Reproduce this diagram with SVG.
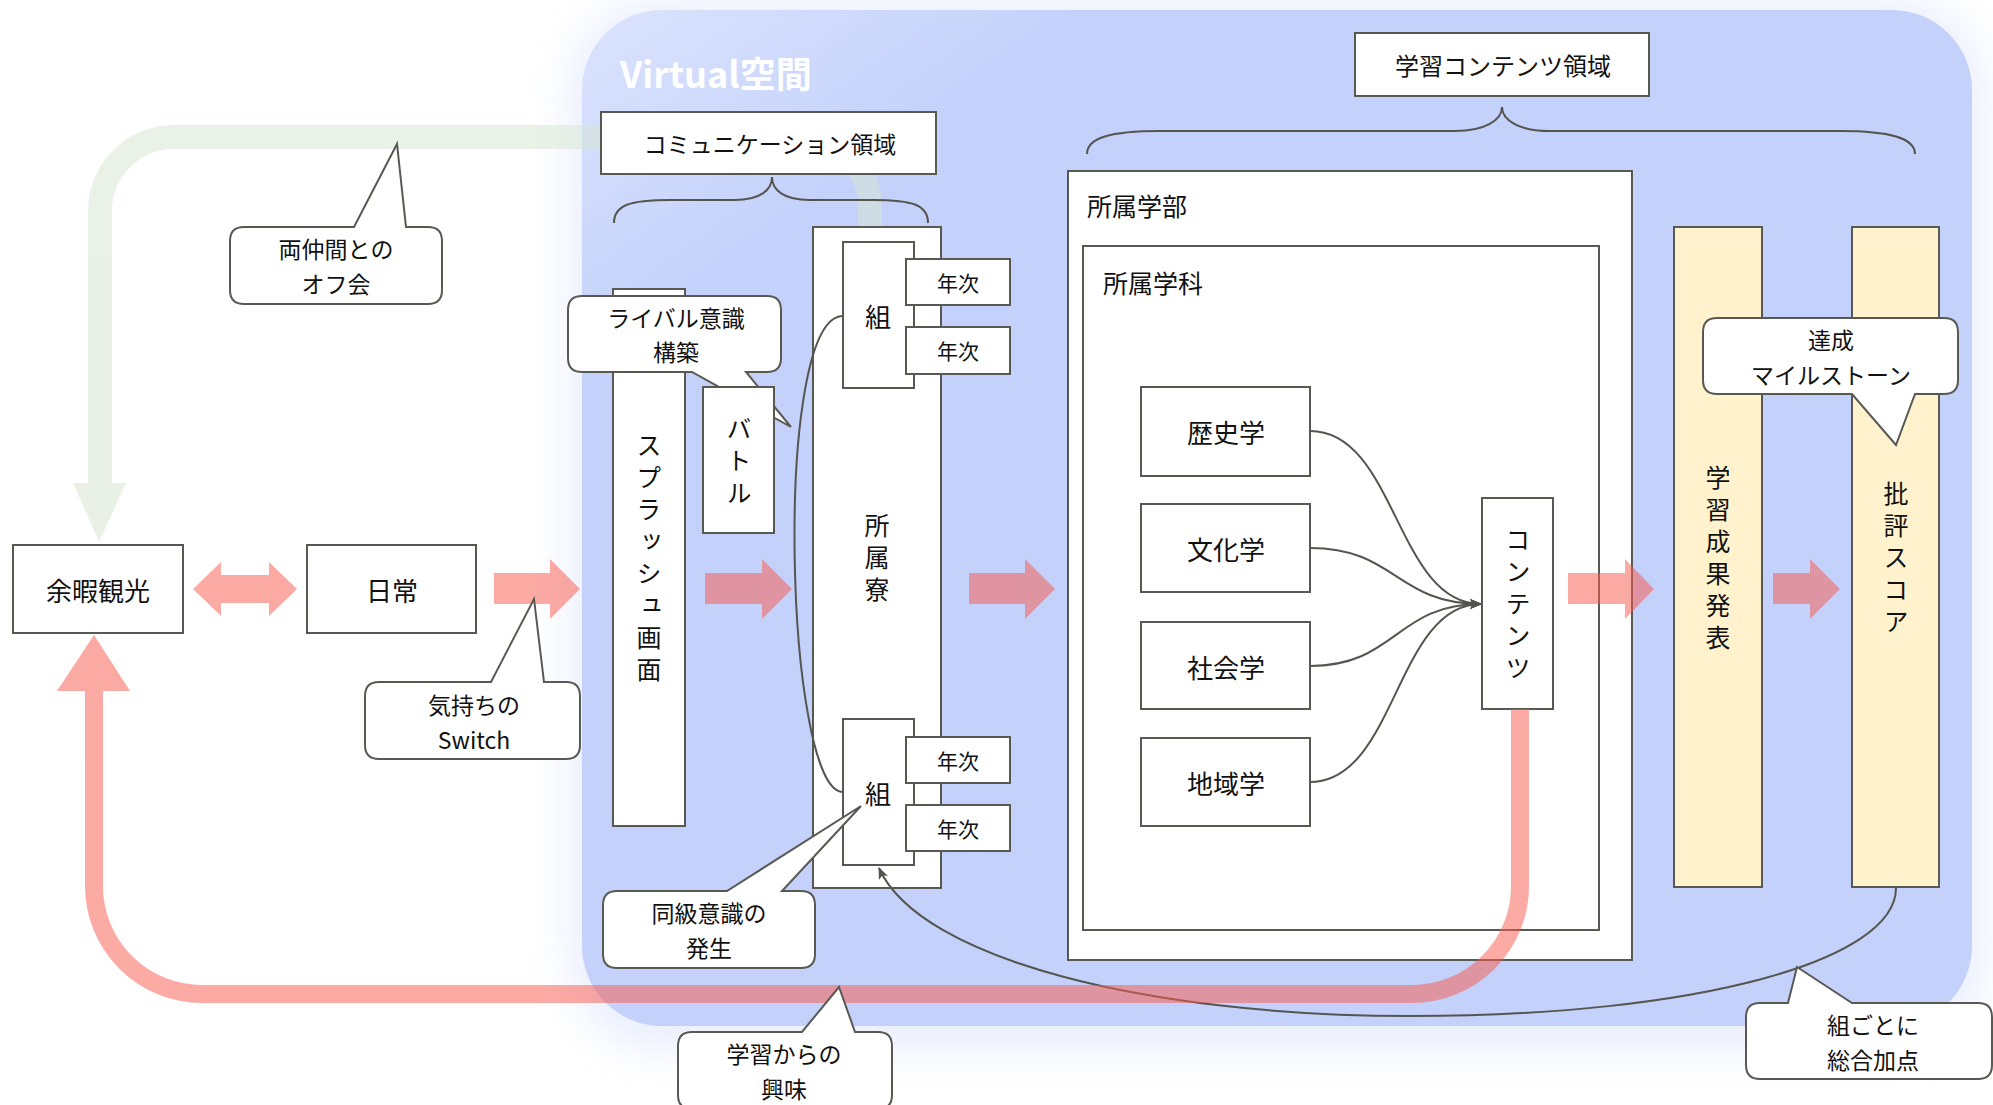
<svg xmlns="http://www.w3.org/2000/svg" width="1993" height="1105" viewBox="0 0 1993 1105">
<defs>
<style>
.t{font-family:"Noto Sans CJK JP","Noto Sans",sans-serif;fill:#111;text-anchor:middle;dominant-baseline:central;font-size:25px}
.c{font-size:23px}
.v{writing-mode:vertical-rl;letter-spacing:7px}
.s{font-size:21px}
.b{fill:#fff;stroke:#595954;stroke-width:2}
.y{fill:#fff2cc;stroke:#595954;stroke-width:2}
.ln{fill:none;stroke:#555550;stroke-width:2}
</style>
<linearGradient id="pg" x1="0" y1="0" x2="1" y2="1">
<stop offset="0" stop-color="#dbe3fd"/>
<stop offset="0.18" stop-color="#c4d2fb"/>
<stop offset="1" stop-color="#c3d1fb"/>
</linearGradient>
<filter id="glow" x="-10%" y="-10%" width="120%" height="120%"><feGaussianBlur stdDeviation="22"/></filter>
<marker id="ah" viewBox="0 0 12 10" refX="11" refY="5" markerWidth="12" markerHeight="10" markerUnits="userSpaceOnUse" orient="auto"><path d="M0,0 L12,5 L0,10 L3,5 Z" fill="#555550"/></marker>
</defs>
<rect width="1993" height="1105" fill="#fff"/>

<g id="virtual-space">
<rect x="570" y="0" width="1414" height="1050" rx="90" fill="#c3d1fb" opacity="0.35" filter="url(#glow)"/>
<rect x="582" y="10" width="1390" height="1016" rx="80" fill="url(#pg)"/>
<text x="620" y="72" style="font-family:'Noto Sans CJK JP','Noto Sans',sans-serif;font-weight:700;font-size:36px;fill:#fff;dominant-baseline:central">Virtual空間</text>
</g>

<g id="connectors-back" opacity="0.5" fill="rgb(213,229,207)" stroke="rgb(213,229,207)">
<path d="M870,227 L870,207 A70,70 0 0 0 800,137 L174,137 A74,74 0 0 0 100,211 L100,483" fill="none" stroke-width="24"/>
<polygon points="73,483 126,483 99,542" stroke="none"/>
</g>

<g id="comm-area">
<rect class="b" x="601" y="112" width="335" height="62"/>
<text class="t" x="770" y="143" style="font-size:23px">コミュニケーション領域</text>
<path class="ln" d="M614,223 C614,205 630,200 670,200 L735,200 C760,200 772,190 772,177 C772,190 784,200 809,200 L873,200 C913,200 928,205 928,223"/>
</g>

<g id="content-area">
<rect class="b" x="1355" y="33" width="294" height="63"/>
<text class="t" x="1503" y="64" style="font-size:24px">学習コンテンツ領域</text>
<path class="ln" d="M1087,154 C1087,138 1110,131 1160,131 L1455,131 C1485,131 1502,120 1502,107 C1502,120 1519,131 1549,131 L1840,131 C1890,131 1915,138 1915,154"/>
</g>

<g id="yoka">
<rect class="b" x="13" y="545" width="170" height="88"/>
<text class="t" x="98" y="589" style="font-size:26px">余暇観光</text>
</g>
<g id="nichijo">
<rect class="b" x="307" y="545" width="169" height="88"/>
<text class="t" x="392" y="589" style="font-size:26px">日常</text>
</g>

<g id="splash">
<rect class="b" x="613" y="289" width="72" height="537"/>
<text class="t v" x="649" y="561">スプラッシュ画面</text>
</g>

<g id="rival-callout">
<path class="b" d="M582,296 L767,296 Q781,296 781,310 L781,358 Q781,372 767,372 L746,372 L791,427 L692,372 L582,372 Q568,372 568,358 L568,310 Q568,296 582,296 Z"/>
<text class="t c" x="676" y="317">ライバル意識</text>
<text class="t c" x="676" y="351">構築</text>
</g>

<g id="battle">
<rect class="b" x="703" y="387" width="71" height="146"/>
<text class="t v" x="739" y="464">バトル</text>
</g>

<g id="ryo">
<rect class="b" x="813" y="227" width="128" height="661"/>
<text class="t v" x="877" y="561">所属寮</text>
</g>
<g id="kumi-1">
<rect class="b" x="843" y="242" width="71" height="146"/>
<text class="t" x="878" y="315" style="font-size:26px">組</text>
</g>
<g id="nenji-1">
<rect class="b" x="906" y="259" width="104" height="46"/>
<text class="t s" x="958" y="282">年次</text>
</g>
<g id="nenji-2">
<rect class="b" x="906" y="327" width="104" height="47"/>
<text class="t s" x="958" y="350">年次</text>
</g>
<g id="kumi-2">
<rect class="b" x="843" y="719" width="71" height="146"/>
<text class="t" x="878" y="792" style="font-size:26px">組</text>
</g>
<g id="nenji-3">
<rect class="b" x="906" y="737" width="104" height="46"/>
<text class="t s" x="958" y="760">年次</text>
</g>
<g id="nenji-4">
<rect class="b" x="906" y="805" width="104" height="46"/>
<text class="t s" x="958" y="828">年次</text>
</g>

<g id="gakubu">
<rect class="b" x="1068" y="171" width="564" height="789"/>
<text class="t" x="1087" y="205" style="text-anchor:start">所属学部</text>
</g>
<g id="gakka">
<rect class="b" x="1083" y="246" width="516" height="684"/>
<text class="t" x="1103" y="282" style="text-anchor:start">所属学科</text>
</g>
<g id="rekishi">
<rect class="b" x="1141" y="387" width="169" height="89"/>
<text class="t" x="1226" y="431" style="font-size:26px">歴史学</text>
</g>
<g id="bunka">
<rect class="b" x="1141" y="504" width="169" height="88"/>
<text class="t" x="1226" y="548" style="font-size:26px">文化学</text>
</g>
<g id="shakai">
<rect class="b" x="1141" y="622" width="169" height="87"/>
<text class="t" x="1226" y="666" style="font-size:26px">社会学</text>
</g>
<g id="chiiki">
<rect class="b" x="1141" y="738" width="169" height="88"/>
<text class="t" x="1226" y="782" style="font-size:26px">地域学</text>
</g>
<g id="contents">
<rect class="b" x="1482" y="498" width="71" height="211"/>
<text class="t v" x="1518" y="607">コンテンツ</text>
</g>
<g id="happyo">
<rect class="y" x="1674" y="227" width="88" height="660"/>
<text class="t v" x="1718" y="561">学習成果発表</text>
</g>
<g id="score">
<rect class="y" x="1852" y="227" width="87" height="660"/>
<text class="t v" x="1896" y="561">批評スコア</text>
</g>

<g id="connectors">
<path class="ln" d="M843,316 C772,316 785,792 843,792"/>
<path class="ln" d="M1896,888 C1896,960 1700,1016 1410,1016 C1150,1016 920,960 879,868" marker-end="url(#ah)"/>
<path class="ln" d="M1310,431 C1396,431 1396,604 1481,604" marker-end="url(#ah)"/>
<path class="ln" d="M1310,548 C1396,548 1396,604 1481,604" marker-end="url(#ah)"/>
<path class="ln" d="M1310,666 C1396,666 1396,604 1481,604" marker-end="url(#ah)"/>
<path class="ln" d="M1310,782 C1396,782 1396,604 1481,604" marker-end="url(#ah)"/>
<g id="pink-arrows" opacity="0.52" fill="rgb(249,92,80)">
<polygon points="193,589 221,562 221,575 269,575 269,562 297,589 269,616 269,603 221,603 221,616"/>
<polygon points="494,573 550,573 550,559 580,589 550,619 550,604 494,604"/>
<polygon points="705,573 762,573 762,559 792,589 762,619 762,604 705,604"/>
<polygon points="969,573 1025,573 1025,559 1055,589 1025,619 1025,604 969,604"/>
<polygon points="1568,573 1625,573 1625,559 1654,589 1625,619 1625,604 1568,604"/>
<polygon points="1773,573 1810,573 1810,559 1840,589 1810,619 1810,604 1773,604"/>
</g>
<g id="pink-loop" opacity="0.52" fill="rgb(249,92,80)" stroke="rgb(249,92,80)">
<path d="M1520,709 L1520,886 A108,108 0 0 1 1412,994 L202,994 A108,108 0 0 1 94,886 L94,691" fill="none" stroke-width="18"/>
<polygon points="57,691 130,691 94,635" stroke="none"/>
</g>
</g>

<g id="offkai-callout">
<path class="b" d="M244,227 L354,227 L397,144 L406,227 L428,227 Q442,227 442,241 L442,290 Q442,304 428,304 L244,304 Q230,304 230,290 L230,241 Q230,227 244,227 Z"/>
<text class="t c" x="336" y="248">両仲間との</text>
<text class="t c" x="336" y="283">オフ会</text>
</g>
<g id="switch-callout">
<path class="b" d="M379,682 L491,682 L534,599 L544,682 L566,682 Q580,682 580,696 L580,745 Q580,759 566,759 L379,759 Q365,759 365,745 L365,696 Q365,682 379,682 Z"/>
<text class="t c" x="474" y="704">気持ちの</text>
<text class="t c" x="474" y="739">Switch</text>
</g>
<g id="dokyu-callout">
<path class="b" d="M617,891 L727,891 L861,806 L782,891 L801,891 Q815,891 815,905 L815,954 Q815,968 801,968 L617,968 Q603,968 603,954 L603,905 Q603,891 617,891 Z"/>
<text class="t c" x="709" y="912">同級意識の</text>
<text class="t c" x="709" y="947">発生</text>
</g>
<g id="kyomi-callout">
<path class="b" d="M692,1032 L802,1032 L839,987 L855,1032 L878,1032 Q892,1032 892,1046 L892,1095 Q892,1109 878,1109 L692,1109 Q678,1109 678,1095 L678,1046 Q678,1032 692,1032 Z"/>
<text class="t c" x="784" y="1053">学習からの</text>
<text class="t c" x="784" y="1088">興味</text>
</g>
<g id="milestone-callout">
<path class="b" d="M1717,318 L1944,318 Q1958,318 1958,332 L1958,380 Q1958,394 1944,394 L1915,394 L1896,445 L1852,394 L1717,394 Q1703,394 1703,380 L1703,332 Q1703,318 1717,318 Z"/>
<text class="t c" x="1831" y="339">達成</text>
<text class="t c" x="1831" y="374">マイルストーン</text>
</g>
<g id="kasan-callout">
<path class="b" d="M1760,1003 L1788,1003 L1797,967 L1852,1003 L1978,1003 Q1992,1003 1992,1017 L1992,1065 Q1992,1079 1978,1079 L1760,1079 Q1746,1079 1746,1065 L1746,1017 Q1746,1003 1760,1003 Z"/>
<text class="t c" x="1873" y="1024">組ごとに</text>
<text class="t c" x="1873" y="1059">総合加点</text>
</g>
</svg>
